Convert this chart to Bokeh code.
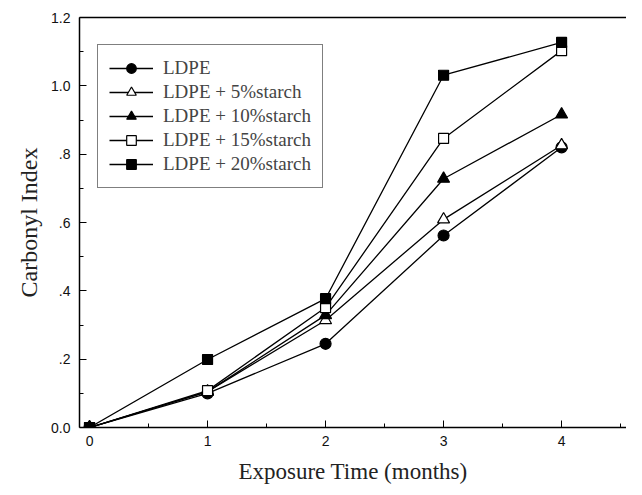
from bokeh.plotting import figure
from bokeh.models import FixedTicker, LinearAxis, Legend, LegendItem, Range1d
from bokeh.embed import file_html
from bokeh.resources import INLINE

months = [0, 1, 2, 3, 4]
ldpe = [0.0, 0.10, 0.245, 0.562, 0.82]
starch5 = [0.0, 0.105, 0.314, 0.609, 0.826]
starch10 = [0.0, 0.105, 0.329, 0.728, 0.916]
starch15 = [0.0, 0.108, 0.351, 0.846, 1.103]
starch20 = [0.0, 0.199, 0.377, 1.031, 1.127]
labels = ["LDPE", "LDPE + 5%starch", "LDPE + 10%starch", "LDPE + 15%starch", "LDPE + 20%starch"]
y_ticks = [0.0, 0.2, 0.4, 0.6, 0.8, 1.0, 1.2]
y_tick_labels = ["0.0", ".2", ".4", ".6", ".8", "1.0", "1.2"]
x_ticks = [0, 1, 2, 3, 4]

p = figure(width=626, height=487, output_backend="svg", toolbar_location=None,
           x_range=Range1d(-0.085, 4.55), y_range=Range1d(0, 1.2),
           min_border_left=79, min_border_top=17, min_border_bottom=60, min_border_right=0)
p.outline_line_color = None
p.grid.visible = False
p.background_fill_color = "white"
p.border_fill_color = "white"

series = [ldpe, starch5, starch10, starch15, starch20]
styles = [("circle", "black", 11), ("triangle", "white", 12), ("triangle", "black", 12),
          ("square", "white", 10), ("square", "black", 10)]
items = []
for vals, (mk, fill, sz), lab in zip(series, styles, labels):
    ln = p.line(months, vals, line_color="black", line_width=1.3)
    sc = p.scatter(months, vals, marker=mk, size=sz, fill_color=fill, line_color="black", line_width=1.2)
    items.append(LegendItem(label=lab, renderers=[ln, sc]))

legend = Legend(items=items, location=(18, 239), padding=11, spacing=0,
                glyph_width=44, glyph_height=24, label_height=24, label_standoff=10,
                label_text_font="Liberation Serif", label_text_font_size="19px",
                border_line_color="black", border_line_width=1, background_fill_alpha=1,
                margin=0)
p.add_layout(legend, "center")

xa = p.xaxis[0]
xa.ticker = FixedTicker(ticks=x_ticks, minor_ticks=[0.5, 1.5, 2.5, 3.5, 4.5])
ya = p.yaxis[0]
ya.ticker = FixedTicker(ticks=y_ticks, minor_ticks=[0.1, 0.3, 0.5, 0.7, 0.9, 1.1])
ya.major_label_overrides = {t: l for t, l in zip(y_ticks, y_tick_labels)}

for ax in (xa, ya):
    ax.axis_line_width = 1.5
    ax.axis_line_color = "black"
    ax.major_tick_in = 7
    ax.major_tick_out = 0
    ax.minor_tick_in = 4
    ax.minor_tick_out = 0
    ax.major_tick_line_color = "black"
    ax.minor_tick_line_color = "black"
    ax.major_label_text_font = "Liberation Sans"
    ax.major_label_text_font_size = "14px"
    ax.major_label_text_color = "#111111"
    ax.axis_label_text_font = "Liberation Serif"
    ax.axis_label_text_font_style = "normal"
    ax.axis_label_text_color = "#222222"

xa.axis_label_text_font_size = "23px"
ya.axis_label_text_font_size = "24px"
xa.axis_label = "Exposure Time (months)"
ya.axis_label = "Carbonyl Index"
xa.major_label_standoff = 8
ya.major_label_standoff = 9
xa.axis_label_standoff = 10
ya.axis_label_standoff = 6

top = LinearAxis(major_tick_in=0, major_tick_out=0, minor_tick_in=0, minor_tick_out=0,
                 major_label_text_font_size="0px", axis_line_width=1.5, axis_line_color="black")
top.ticker = FixedTicker(ticks=[])
p.add_layout(top, "above")

open("out.html", "w").write(file_html(p, INLINE))
